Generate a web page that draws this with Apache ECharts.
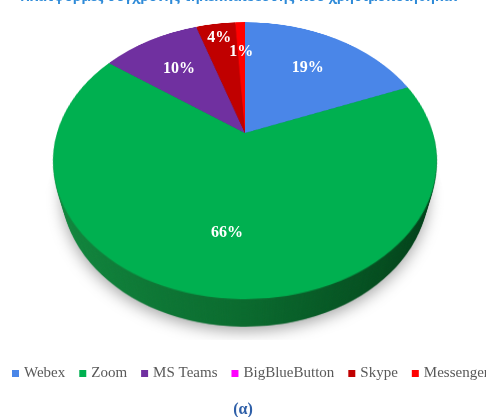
<!DOCTYPE html>
<html>
<head>
<meta charset="utf-8">
<script src="https://cdn.jsdelivr.net/npm/echarts@6/dist/echarts.min.js"></script>
<style>
  html, body { margin: 0; padding: 0; width: 486px; height: 417px; overflow: hidden; background: #ffffff; }
  #stage { position: absolute; left: 0; top: 0; width: 486px; height: 417px; overflow: hidden; }
  .layer { position: absolute; width: 400px; height: 400px; left: 45px; top: -67px; transform-origin: 50% 50%; }
  #main { position: absolute; left: 0; top: 0; width: 486px; height: 417px; }
</style>
</head>
<body>
<div id="stage"></div>
<script>
// ---- data ----
const categories = ['Webex', 'Zoom', 'MS Teams', 'BigBlueButton', 'Skype', 'Messenger'];
const values = [19, 66, 10, 0, 4, 1];
const faceColors = ['#4A86E8', '#00B050', '#7030A0', '#FF00FF', '#C00000', '#FF0000'];
const wallColors = ['#2A5BA8', null, '#4A1F6B', '#A000A0', '#800000', '#A00000'];
const titleText = 'Πλατφόρμες σύγχρονης τηλεκπαίδευσης που χρησιμοποιήθηκαν';
const subtitleText = '(α)';

// ---- 3D view settings ----
const R = 188, TILT = 45, PERSP = 664, DEPTH = 44, NLAYERS = 30;
const CX = 245, CY = 133;
const SERIF = 'Liberation Serif, Times New Roman, serif';

const stage = document.getElementById('stage');

function pieOption(colors, shadow) {
  return {
    animation: false,
    series: [{
      type: 'pie',
      silent: true,
      center: [200, 200],
      radius: [0, R],
      startAngle: 90,
      clockwise: true,
      label: { show: false },
      labelLine: { show: false },
      itemStyle: shadow ? { shadowBlur: 14, shadowColor: 'rgba(0,0,0,0.35)', shadowOffsetY: 4 } : {},
      data: categories.map((c, i) => ({
        name: c, value: values[i],
        itemStyle: { color: colors[i] }
      }))
    }]
  };
}

const wallGreen = new echarts.graphic.LinearGradient(0, 0, 400, 0, [
  { offset: 0, color: '#128C40' },
  { offset: 0.5, color: '#0A6A2E' },
  { offset: 1, color: '#003814' }
], true);
const wallCols = wallColors.map(c => c === null ? wallGreen : c);

// wall layers (from deepest to top)
for (let i = NLAYERS; i >= 1; i--) {
  const z = DEPTH * i / NLAYERS;
  const d = document.createElement('div');
  d.className = 'layer';
  d.style.transform = `perspective(${PERSP}px) rotateX(${TILT}deg) translateZ(${-z}px)`;
  stage.appendChild(d);
  const ch = echarts.init(d, null, { renderer: 'canvas' });
  ch.setOption(pieOption(wallCols, i === NLAYERS));
}
// top face
const faceDiv = document.createElement('div');
faceDiv.className = 'layer';
faceDiv.style.transform = `perspective(${PERSP}px) rotateX(${TILT}deg)`;
stage.appendChild(faceDiv);
echarts.init(faceDiv).setOption(pieOption(faceColors, false));

// ---- overlay: texts, legend, labels ----
const mainDiv = document.createElement('div');
mainDiv.id = 'main';
stage.appendChild(mainDiv);
const mainChart = echarts.init(mainDiv);

function project(phiDeg, f) {
  const phi = phiDeg * Math.PI / 180, t = TILT * Math.PI / 180;
  const x = f * R * Math.sin(phi), y = -f * R * Math.cos(phi);
  const yp = y * Math.cos(t), zp = y * Math.sin(t);
  const k = PERSP / (PERSP - zp);
  return [CX + x * k, CY + yp * k];
}

const total = values.reduce((a, b) => a + b, 0);
let acc = 0;
const labelGraphics = [];
values.forEach((v, i) => {
  const mid = (acc + v / 2) / total * 360;
  acc += v;
  if (v <= 0) return;
  const f = v >= 10 ? 0.66 : (v >= 3 ? 0.85 : 0.7);
  const p = project(mid, f);
  labelGraphics.push({
    type: 'text', x: p[0], y: p[1], silent: true,
    style: {
      text: Math.round(v / total * 100) + '%',
      fill: '#FFFFFF', font: 'bold 16px ' + SERIF,
      align: 'center', verticalAlign: 'middle'
    }
  });
});

mainChart.setOption({
  animation: false,
  title: [{
    text: titleText, left: 20, top: -10, padding: 0,
    textStyle: { color: '#2F8BD8', fontSize: 13.5, fontWeight: 'bold', fontFamily: 'Noto Sans, sans-serif' }
  }, {
    text: subtitleText, left: 'center', top: 397,
    textStyle: { color: '#2E5FA8', fontSize: 16, fontWeight: 'bold', fontFamily: SERIF }
  }],
  legend: {
    left: 12, top: 366, width: 700, padding: 0, itemWidth: 7, itemHeight: 7, itemGap: 14, icon: 'rect',
    selectedMode: false,
    textStyle: { color: '#595959', fontSize: 15, fontFamily: SERIF },
    data: categories
  },
  graphic: labelGraphics,
  series: [{
    type: 'pie', silent: true, radius: [0, 0], center: [-50, -50],
    label: { show: false }, labelLine: { show: false },
    data: categories.map((c, i) => ({ name: c, value: values[i], itemStyle: { color: faceColors[i] } }))
  }]
});
</script>
</body>
</html>
